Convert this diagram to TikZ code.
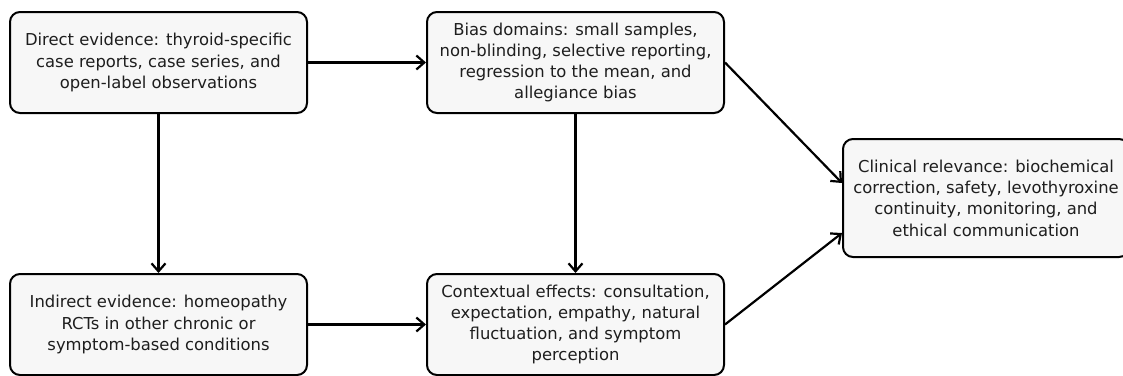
\documentclass[tikz,border=0pt]{standalone}
\usepackage{fontspec}
\setmainfont{DejaVu Sans}
\usetikzlibrary{arrows.meta}
\definecolor{boxfill}{HTML}{F7F7F7}
\definecolor{txt}{HTML}{1E1E1E}
\tikzset{
  box/.style={draw=black, line width=2pt, fill=boxfill, rounded corners=10pt,
    inner sep=0pt, align=center, text=txt,
    font=\fontsize{16.4}{21.3}\selectfont},
  conn/.style={line width=2.2pt, -{Straight Barb[length=8pt,width=14pt,line width=2.2pt]}}
}
\begin{document}
\begin{tikzpicture}[x=1pt,y=-1pt]
\useasboundingbox (0,0) rectangle (1123,375);
\node[box, minimum width=297pt, minimum height=101pt] (A) at (158.5,62.5)
  {Direct evidence: thyroid-specific\\case reports, case series, and\\open-label observations};
\node[box, minimum width=297pt, minimum height=101pt] (B) at (575.5,62.5)
  {Bias domains: small samples,\\non-blinding, selective reporting,\\regression to the mean, and\\allegiance bias};
\node[box, minimum width=297pt, minimum height=101pt] (C) at (158.5,324.5)
  {Indirect evidence: homeopathy\\RCTs in other chronic or\\symptom-based conditions};
\node[box, minimum width=297pt, minimum height=101pt] (D) at (575.5,324.5)
  {Contextual effects: consultation,\\expectation, empathy, natural\\fluctuation, and symptom\\perception};
\node[box, minimum width=286pt, minimum height=118pt] (E) at (986,198)
  {Clinical relevance: biochemical\\correction, safety, levothyroxine\\continuity, monitoring, and\\ethical communication};
\coordinate (E1) at ([yshift=15pt]E.west);
\coordinate (E2) at ([yshift=-35pt]E.west);
\draw[conn] (A.east) -- (B.west);
\draw[conn] (A.south) -- (C.north);
\draw[conn] (B.south) -- (D.north);
\draw[conn] (C.east) -- (D.west);
\draw[conn] (B.east) -- (E1);
\draw[conn] (D.east) -- (E2);
\end{tikzpicture}
\end{document}
